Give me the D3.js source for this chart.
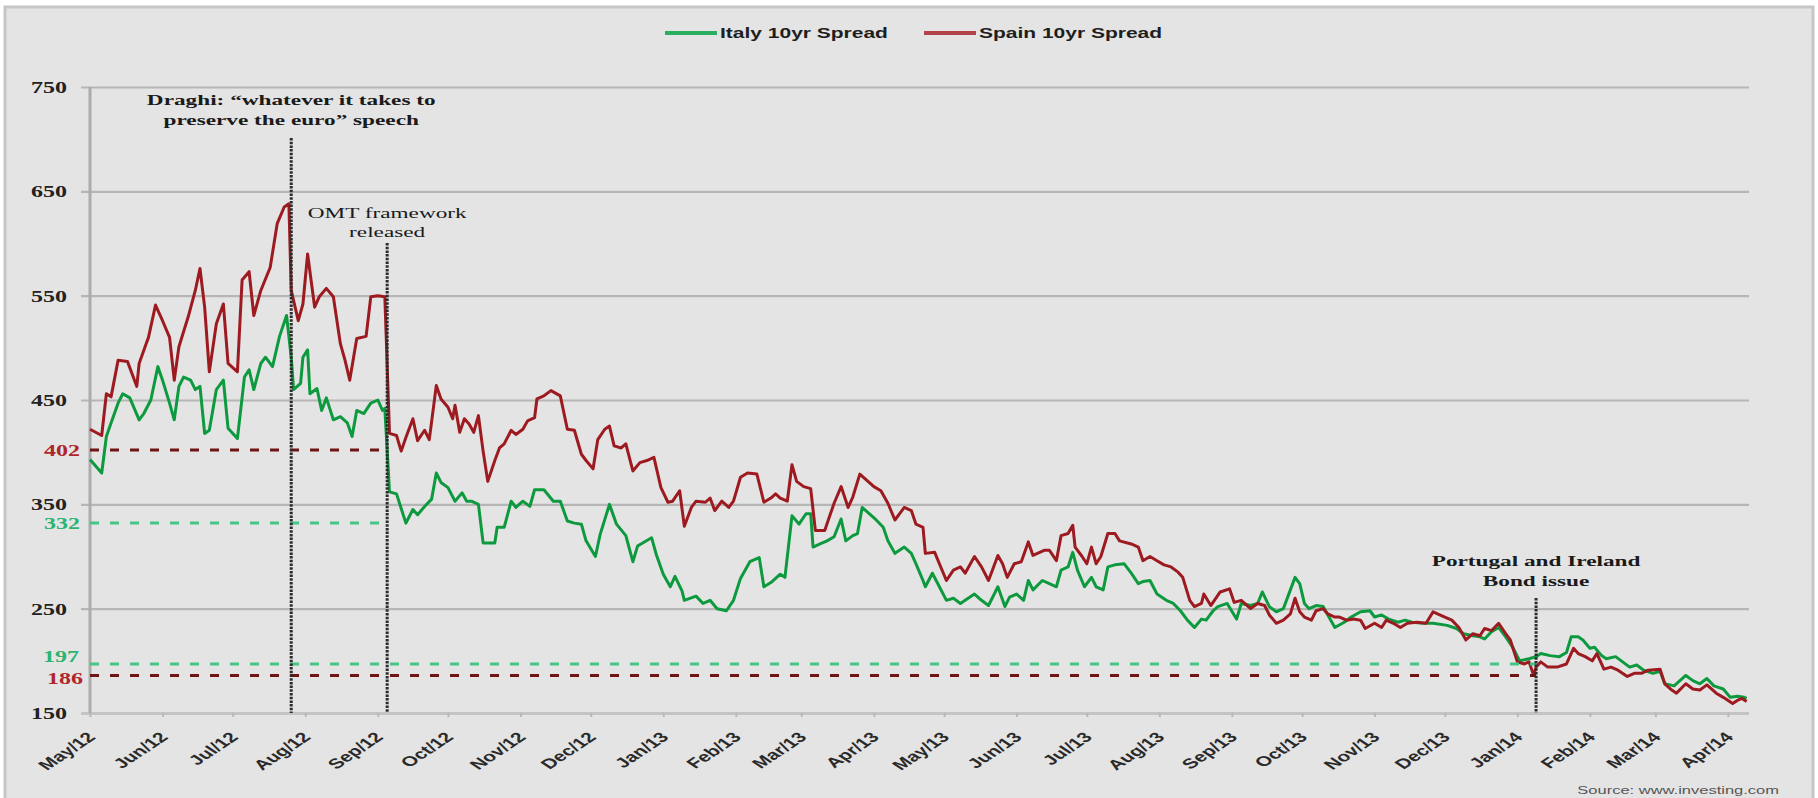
<!DOCTYPE html>
<html>
<head>
<meta charset="utf-8">
<script src="https://cdn.jsdelivr.net/npm/d3@7"></script>
<style>
  body { margin: 0; background: #fff; }
  svg { display: block; }
  .yLabel { font-family: "Liberation Serif", serif; font-weight: bold; font-size: 16px; fill: #222; }
  .xLabel { font-family: "Liberation Sans", sans-serif; font-weight: bold; font-size: 14px; fill: #2a2a2a; }
  .legendText { font-family: "Liberation Sans", sans-serif; font-weight: bold; font-size: 14px; fill: #1e1e1e; }
  .note { font-family: "Liberation Serif", serif; font-weight: bold; font-size: 15.5px; fill: #1a1a1a; }
  .source { font-family: "Liberation Sans", sans-serif; font-size: 11px; fill: #555; }
</style>
</head>
<body>
<div id="chart"></div>
<script>
// ---- data (bp) ----
var italy = [
  ["2012-05-01",393],["2012-05-06",380],["2012-05-08",415],["2012-05-10",428],["2012-05-13",447],["2012-05-15",456],
  ["2012-05-18",452],["2012-05-22",431],["2012-05-24",437],["2012-05-27",450],["2012-05-30",482],["2012-06-01",469],
  ["2012-06-04",447],["2012-06-06",431],["2012-06-08",463],["2012-06-10",472],["2012-06-13",469],["2012-06-15",460],
  ["2012-06-17",463],["2012-06-19",418],["2012-06-21",421],["2012-06-24",460],["2012-06-27",469],["2012-06-29",423],
  ["2012-07-03",413],["2012-07-06",472],["2012-07-08",479],["2012-07-10",460],["2012-07-13",485],["2012-07-15",491],
  ["2012-07-18",482],["2012-07-21",511],["2012-07-24",531],["2012-07-26",491],["2012-07-27",460],["2012-07-30",466],
  ["2012-07-31",491],["2012-08-02",498],["2012-08-03",456],["2012-08-06",461],["2012-08-08",440],["2012-08-10",452],
  ["2012-08-13",431],["2012-08-16",434],["2012-08-19",428],["2012-08-21",415],["2012-08-23",440],["2012-08-26",437],
  ["2012-08-29",447],["2012-09-01",450],["2012-09-03",440],["2012-09-04",442],["2012-09-06",362],["2012-09-09",360],
  ["2012-09-13",332],["2012-09-16",345],["2012-09-18",340],["2012-09-21",348],["2012-09-24",355],["2012-09-26",380],
  ["2012-09-28",371],["2012-10-01",366],["2012-10-04",353],["2012-10-07",361],["2012-10-09",353],["2012-10-11",353],
  ["2012-10-14",350],["2012-10-16",313],["2012-10-21",313],["2012-10-22",328],["2012-10-25",328],["2012-10-28",353],
  ["2012-10-30",347],["2012-11-02",353],["2012-11-05",348],["2012-11-07",364],["2012-11-11",364],["2012-11-15",353],
  ["2012-11-18",353],["2012-11-21",334],["2012-11-24",332],["2012-11-27",331],["2012-11-29",315],["2012-12-03",300],
  ["2012-12-05",321],["2012-12-09",350],["2012-12-12",331],["2012-12-16",320],["2012-12-19",295],["2012-12-21",310],
  ["2012-12-27",318],["2012-12-29",302],["2013-01-01",283],["2013-01-04",271],["2013-01-06",281],["2013-01-09",267],
  ["2013-01-10",258],["2013-01-15",262],["2013-01-18",255],["2013-01-21",258],["2013-01-24",250],["2013-01-28",248],
  ["2013-01-31",258],["2013-02-03",279],["2013-02-07",295],["2013-02-11",299],["2013-02-13",271],["2013-02-16",275],
  ["2013-02-20",283],["2013-02-22",280],["2013-02-25",339],["2013-02-28",331],["2013-03-03",341],["2013-03-05",341],
  ["2013-03-06",309],["2013-03-09",312],["2013-03-12",315],["2013-03-15",319],["2013-03-18",336],["2013-03-20",315],
  ["2013-03-23",320],["2013-03-25",322],["2013-03-27",347],["2013-03-30",341],["2013-04-02",335],["2013-04-05",328],
  ["2013-04-07",315],["2013-04-10",303],["2013-04-14",309],["2013-04-17",303],["2013-04-19",293],["2013-04-22",277],
  ["2013-04-23",271],["2013-04-26",284],["2013-04-29",271],["2013-05-02",258],["2013-05-05",260],["2013-05-08",255],
  ["2013-05-10",258],["2013-05-14",264],["2013-05-17",258],["2013-05-20",253],["2013-05-24",271],["2013-05-27",252],
  ["2013-05-29",261],["2013-06-01",264],["2013-06-04",258],["2013-06-06",277],["2013-06-08",268],["2013-06-12",277],
  ["2013-06-15",274],["2013-06-18",271],["2013-06-20",287],["2013-06-23",290],["2013-06-25",304],["2013-06-27",287],
  ["2013-06-30",271],["2013-07-03",280],["2013-07-05",271],["2013-07-08",268],["2013-07-10",290],["2013-07-13",292],
  ["2013-07-17",293],["2013-07-20",284],["2013-07-23",274],["2013-07-25",276],["2013-07-28",277],["2013-07-31",264],
  ["2013-08-04",258],["2013-08-07",255],["2013-08-10",248],["2013-08-13",239],["2013-08-16",232],["2013-08-19",240],
  ["2013-08-21",239],["2013-08-24",248],["2013-08-26",252],["2013-08-30",255],["2013-09-03",240],["2013-09-05",255],
  ["2013-09-09",253],["2013-09-12",255],["2013-09-14",266],["2013-09-17",252],["2013-09-20",247],["2013-09-23",250],
  ["2013-09-26",268],["2013-09-28",280],["2013-09-30",274],["2013-10-02",255],["2013-10-04",250],["2013-10-07",253],
  ["2013-10-10",252],["2013-10-12",244],["2013-10-15",232],["2013-10-19",237],["2013-10-22",242],["2013-10-26",247],
  ["2013-10-30",248],["2013-11-01",242],["2013-11-04",244],["2013-11-07",240],["2013-11-11",237],["2013-11-14",239],
  ["2013-11-17",237],["2013-11-22",236],["2013-11-26",236],["2013-12-02",234],["2013-12-06",231],["2013-12-09",226],
  ["2013-12-13",224],["2013-12-16",223],["2013-12-18",221],["2013-12-21",228],["2013-12-24",232],["2013-12-27",223],
  ["2013-12-30",213],["2014-01-02",200],["2014-01-06",202],["2014-01-09",204],["2014-01-11",207],["2014-01-15",205],
  ["2014-01-19",204],["2014-01-22",208],["2014-01-24",223],["2014-01-27",223],["2014-01-29",220],["2014-02-01",212],
  ["2014-02-03",213],["2014-02-06",205],["2014-02-08",202],["2014-02-12",204],["2014-02-15",199],["2014-02-18",194],
  ["2014-02-21",196],["2014-02-24",191],["2014-02-28",188],["2014-03-03",190],["2014-03-05",178],["2014-03-09",176],
  ["2014-03-11",180],["2014-03-14",186],["2014-03-17",181],["2014-03-20",178],["2014-03-23",183],["2014-03-26",176],
  ["2014-03-30",173],["2014-04-02",165],["2014-04-05",166],["2014-04-08",165],["2014-04-09",164]
];

var spain = [
  ["2012-05-01",422],["2012-05-06",416],["2012-05-08",456],["2012-05-10",453],["2012-05-13",488],["2012-05-17",487],
  ["2012-05-21",463],["2012-05-22",485],["2012-05-25",504],["2012-05-26",510],["2012-05-29",541],["2012-06-01",526],
  ["2012-06-04",510],["2012-06-06",469],["2012-06-08",501],["2012-06-12",530],["2012-06-15",555],["2012-06-17",576],
  ["2012-06-19",539],["2012-06-21",477],["2012-06-24",523],["2012-06-27",542],["2012-06-29",485],["2012-07-03",477],
  ["2012-07-05",565],["2012-07-08",573],["2012-07-10",531],["2012-07-13",555],["2012-07-17",577],["2012-07-20",619],
  ["2012-07-23",635],["2012-07-25",638],["2012-07-26",555],["2012-07-29",526],["2012-07-31",542],["2012-08-02",590],
  ["2012-08-05",539],["2012-08-07",549],["2012-08-10",557],["2012-08-13",549],["2012-08-16",504],["2012-08-18",488],
  ["2012-08-20",469],["2012-08-23",509],["2012-08-27",511],["2012-08-29",549],["2012-09-01",550],["2012-09-04",549],
  ["2012-09-06",418],["2012-09-09",416],["2012-09-11",401],["2012-09-13",414],["2012-09-16",432],["2012-09-18",411],
  ["2012-09-21",421],["2012-09-23",412],["2012-09-26",464],["2012-09-28",451],["2012-10-01",443],["2012-10-03",432],
  ["2012-10-04",445],["2012-10-06",419],["2012-10-08",432],["2012-10-10",427],["2012-10-12",419],["2012-10-14",435],
  ["2012-10-16",401],["2012-10-18",372],["2012-10-21",392],["2012-10-23",404],["2012-10-25",408],["2012-10-28",421],
  ["2012-10-30",417],["2012-11-02",422],["2012-11-04",430],["2012-11-07",433],["2012-11-08",451],["2012-11-11",454],
  ["2012-11-14",459],["2012-11-18",454],["2012-11-21",422],["2012-11-24",421],["2012-11-27",398],["2012-11-29",392],
  ["2012-12-02",384],["2012-12-04",412],["2012-12-07",422],["2012-12-09",425],["2012-12-11",406],["2012-12-14",404],
  ["2012-12-16",408],["2012-12-19",382],["2012-12-22",390],["2012-12-25",392],["2012-12-28",395],["2012-12-31",366],
  ["2013-01-03",352],["2013-01-05",353],["2013-01-08",363],["2013-01-10",329],["2013-01-13",347],["2013-01-15",353],
  ["2013-01-19",352],["2013-01-21",356],["2013-01-23",344],["2013-01-26",353],["2013-01-29",347],["2013-01-31",353],
  ["2013-02-03",376],["2013-02-06",380],["2013-02-10",379],["2013-02-13",352],["2013-02-16",356],["2013-02-18",360],
  ["2013-02-20",356],["2013-02-23",353],["2013-02-25",388],["2013-02-27",372],["2013-03-02",367],["2013-03-05",365],
  ["2013-03-07",325],["2013-03-11",325],["2013-03-13",338],["2013-03-15",351],["2013-03-18",367],["2013-03-21",347],
  ["2013-03-23",357],["2013-03-26",379],["2013-03-29",373],["2013-04-01",367],["2013-04-04",363],["2013-04-07",351],
  ["2013-04-10",335],["2013-04-14",347],["2013-04-17",344],["2013-04-19",331],["2013-04-22",328],["2013-04-23",303],
  ["2013-04-27",304],["2013-04-29",293],["2013-05-02",277],["2013-05-05",287],["2013-05-08",290],["2013-05-10",284],
  ["2013-05-14",300],["2013-05-17",290],["2013-05-20",277],["2013-05-24",301],["2013-05-26",293],["2013-05-28",280],
  ["2013-05-31",293],["2013-06-03",295],["2013-06-06",314],["2013-06-08",301],["2013-06-13",306],["2013-06-15",306],
  ["2013-06-18",296],["2013-06-20",320],["2013-06-23",322],["2013-06-25",330],["2013-06-26",309],["2013-06-29",300],
  ["2013-07-01",293],["2013-07-03",309],["2013-07-05",293],["2013-07-07",300],["2013-07-10",322],["2013-07-13",322],
  ["2013-07-15",315],["2013-07-20",312],["2013-07-23",309],["2013-07-25",296],["2013-07-28",300],["2013-07-31",296],
  ["2013-08-03",292],["2013-08-06",290],["2013-08-09",285],["2013-08-11",280],["2013-08-14",258],["2013-08-16",252],
  ["2013-08-19",255],["2013-08-20",264],["2013-08-23",253],["2013-08-27",266],["2013-08-31",269],["2013-09-02",256],
  ["2013-09-05",258],["2013-09-09",250],["2013-09-12",255],["2013-09-15",253],["2013-09-17",244],["2013-09-20",236],
  ["2013-09-23",239],["2013-09-26",245],["2013-09-28",260],["2013-09-30",247],["2013-10-02",242],["2013-10-05",239],
  ["2013-10-07",248],["2013-10-10",250],["2013-10-12",245],["2013-10-15",242],["2013-10-17",242],["2013-10-20",239],
  ["2013-10-23",240],["2013-10-26",239],["2013-10-28",231],["2013-11-01",236],["2013-11-04",232],["2013-11-06",239],
  ["2013-11-09",236],["2013-11-12",232],["2013-11-15",236],["2013-11-19",237],["2013-11-23",236],["2013-11-26",247],
  ["2013-12-01",242],["2013-12-04",239],["2013-12-07",232],["2013-12-10",220],["2013-12-13",226],["2013-12-16",224],
  ["2013-12-18",231],["2013-12-21",229],["2013-12-24",236],["2013-12-27",226],["2013-12-29",220],["2014-01-01",199],
  ["2014-01-04",197],["2014-01-06",199],["2014-01-08",186],["2014-01-09",194],["2014-01-11",199],["2014-01-14",194],
  ["2014-01-18",194],["2014-01-22",197],["2014-01-25",212],["2014-01-27",207],["2014-01-30",204],["2014-02-02",200],
  ["2014-02-04",207],["2014-02-07",192],["2014-02-10",194],["2014-02-13",191],["2014-02-17",185],["2014-02-20",188],
  ["2014-02-23",188],["2014-02-26",191],["2014-03-03",192],["2014-03-05",178],["2014-03-08",172],["2014-03-10",169],
  ["2014-03-14",178],["2014-03-17",173],["2014-03-20",172],["2014-03-23",177],["2014-03-27",169],["2014-03-30",165],
  ["2014-04-03",159],["2014-04-05",162],["2014-04-07",164],["2014-04-09",161]
];

var seriesNames = ["Italy 10yr Spread", "Spain 10yr Spread"];
var yTicks = [150, 250, 350, 450, 550, 650, 750];
var xStart = "2012-05-01", xEnd = "2014-04-10";

// reference levels: value, which series, and the date the dashed line stops
var refValues = [402, 332, 197, 186];
var refSeries = ["spain", "italy", "italy", "spain"];
var refEnds = ["2012-09-05", "2012-09-05", "2014-01-09", "2014-01-09"];

// events
var eventDates = ["2012-07-26", "2012-09-05", "2014-01-09"];
var eventLabels = [
  ["Draghi: \u201cwhatever it takes to", "preserve the euro\u201d speech"],
  ["OMT framework", "released"],
  ["Portugal and Ireland", "Bond issue"]
];
var sourceText = "Source: www.investing.com";

// ---- layout ----
var svgWidth = 1818;
var svgHeight = 798;
var margin = { top: 87, right: 69, bottom: 85, left: 90 };
var width = svgWidth - margin.left - margin.right;   // 1659
var height = 713 - margin.top;                         // 626
var SX = 1.5; // the original picture is stretched sideways, text too

var colors = {
  italy: "#0d9a3e", spain: "#9d1b20",
  italyLegend: "#2aae60", spainLegend: "#b3434b",
  italyRef: "#45c585", spainRef: "#6e1616",
  italyRefText: "#2bb472", spainRefText: "#b0262b"
};

var parseDate = d3.timeParse("%Y-%m-%d");
var toPoints = arr => arr.map(d => ({ date: parseDate(d[0]), value: d[1] }));
var italyData = toPoints(italy);
var spainData = toPoints(spain);

var svg = d3.select("#chart")
  .append("svg")
  .attr("width", svgWidth)
  .attr("height", svgHeight);

// grey panel with border
svg.append("rect")
  .attr("x", 5).attr("y", 7)
  .attr("width", 1808).attr("height", 806)
  .attr("fill", "#e4e4e4")
  .attr("stroke", "#c6c6c6")
  .attr("stroke-width", 3);

var chartGroup = svg.append("g")
  .attr("transform", `translate(${margin.left}, ${margin.top})`);

var xScale = d3.scaleTime()
  .domain([parseDate(xStart), parseDate(xEnd)])
  .range([0, width]);

var yScale = d3.scaleLinear()
  .domain([150, 750])
  .range([height, 0]);

// y gridlines + labels through axisLeft
var yAxisG = chartGroup.append("g")
  .attr("transform", "translate(-9,0)")
  .call(d3.axisLeft(yScale).tickValues(yTicks).tickSize(-(width + 9)).tickPadding(14));
yAxisG.select(".domain").remove();
yAxisG.selectAll(".tick line")
  .attr("stroke", d => d === 150 ? "#c4c4c4" : "#b6b6b6")
  .attr("stroke-width", d => d === 150 ? 3 : 2.2);
yAxisG.selectAll(".tick text")
  .attr("class", "yLabel")
  .attr("x", 0)
  .attr("dy", "0.34em")
  .attr("transform", `translate(-14,0) scale(${SX},1)`)
  .attr("text-anchor", "end");

// vertical axis line
chartGroup.append("line")
  .attr("x1", 0).attr("x2", 0)
  .attr("y1", 0).attr("y2", height)
  .attr("stroke", "#ababab")
  .attr("stroke-width", 3);

// x axis: monthly ticks, rotated labels
var xAxisG = chartGroup.append("g")
  .attr("transform", `translate(0, ${height})`)
  .call(d3.axisBottom(xScale)
    .ticks(d3.timeMonth.every(1))
    .tickSize(4)
    .tickFormat(d3.timeFormat("%b/%y")));
xAxisG.select(".domain").remove();
xAxisG.selectAll(".tick line").attr("stroke", "#b8b8b8").attr("stroke-width", 2);
xAxisG.selectAll(".tick text")
  .attr("class", "xLabel")
  .attr("x", 0).attr("y", 0).attr("dy", 0)
  .attr("text-anchor", "end")
  .attr("transform", `translate(6,25) scale(${SX},1) rotate(-45)`);

// series lines
var line = d3.line()
  .x(d => xScale(d.date))
  .y(d => yScale(d.value));

chartGroup.append("path")
  .datum(italyData)
  .attr("fill", "none")
  .attr("stroke", colors.italy)
  .attr("stroke-width", 3)
  .attr("stroke-linejoin", "round")
  .attr("d", line);

chartGroup.append("path")
  .datum(spainData)
  .attr("fill", "none")
  .attr("stroke", colors.spain)
  .attr("stroke-width", 3)
  .attr("stroke-linejoin", "round")
  .attr("d", line);

// dashed reference levels
var refShift = [[-10, 0], [-10, 0], [-11, -7], [-7, 3]];
refValues.forEach((v, i) => {
  chartGroup.append("line")
    .attr("x1", 0)
    .attr("x2", xScale(parseDate(refEnds[i])))
    .attr("y1", yScale(v)).attr("y2", yScale(v))
    .attr("stroke", colors[refSeries[i] + "Ref"])
    .attr("stroke-width", 3)
    .attr("stroke-dasharray", "9,11");
  chartGroup.append("text")
    .attr("class", "yLabel")
    .attr("text-anchor", "end")
    .attr("dy", "0.34em")
    .style("fill", colors[refSeries[i] + "RefText"])
    .attr("transform", `translate(${refShift[i][0]},${yScale(v) + refShift[i][1]}) scale(${SX},1)`)
    .text(v);
});

// event markers
var eventTop = [138, 243, 598].map(t => t - margin.top);
var eventGap = [[-33, -13], [-25, -6], [-32, -12]];
eventDates.forEach((d, i) => {
  var ex = xScale(parseDate(d));
  chartGroup.append("line")
    .attr("x1", ex).attr("x2", ex)
    .attr("y1", eventTop[i]).attr("y2", height)
    .attr("stroke", "#2b2b2b")
    .attr("stroke-width", 3)
    .attr("stroke-dasharray", "2.5,1.2");
  eventLabels[i].forEach((txt, j) => {
    chartGroup.append("text")
      .attr("class", "note")
      .style("font-weight", i === 1 ? "normal" : "bold")
      .attr("text-anchor", "middle")
      .attr("transform", `translate(${ex},${eventTop[i] + eventGap[i][j]}) scale(${SX},1)`)
      .text(txt);
  });
});

// legend
var legendItems = [
  { name: seriesNames[0], color: colors.italyLegend, x: 665 },
  { name: seriesNames[1], color: colors.spainLegend, x: 924 }
];
var legend = svg.append("g");
legendItems.forEach(item => {
  legend.append("line")
    .attr("x1", item.x).attr("x2", item.x + 52)
    .attr("y1", 33).attr("y2", 33)
    .attr("stroke", item.color)
    .attr("stroke-width", 4);
  legend.append("text")
    .attr("class", "legendText")
    .attr("transform", `translate(${item.x + 55},38) scale(${SX},1)`)
    .text(item.name);
});

// source note
svg.append("text")
  .attr("class", "source")
  .attr("text-anchor", "end")
  .attr("transform", `translate(1779,794) scale(${SX},1)`)
  .text(sourceText);
</script>
</body>
</html>
